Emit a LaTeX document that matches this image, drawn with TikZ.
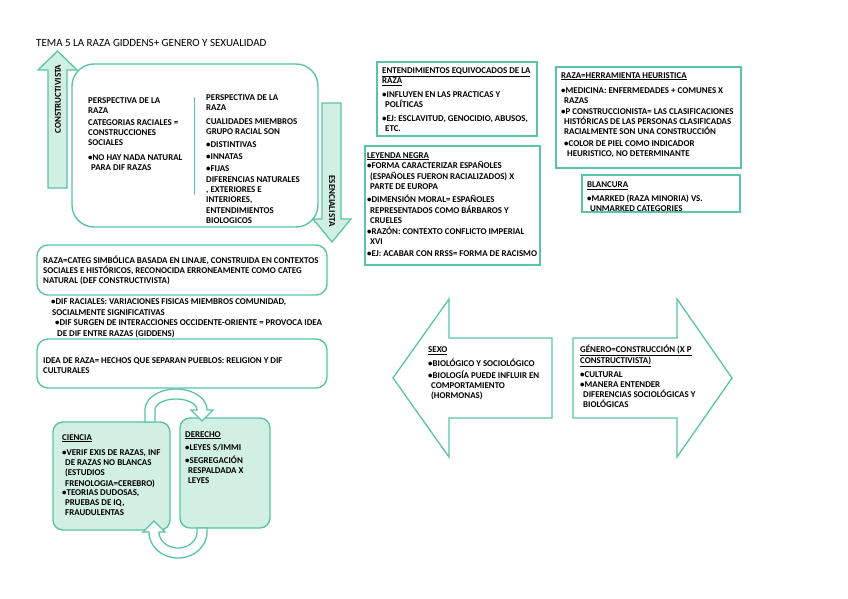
\documentclass[tikz,border=0pt]{standalone}
\usepackage{fontspec}
\setmainfont{Carlito}
\definecolor{tealc}{RGB}{90,196,165}
\definecolor{lightg}{RGB}{210,239,228}
\newcommand{\bodyfnt}{\fontsize{8.9}{10.3}\selectfont\bfseries}
\newcommand{\ind}{\hspace*{3pt}}
\newcommand{\sr}{\rule{0pt}{8pt}}
\begin{document}
\begin{tikzpicture}[x=1pt,y=-1pt,
  txt/.style={anchor=north west, yshift=8pt, inner sep=0pt, align=left, font=\bodyfnt},
  rbox/.style={draw=tealc, line width=1.4pt, rounded corners=11pt},
  sbox/.style={draw=tealc, line width=1.6pt},
  fbox/.style={draw=tealc, fill=lightg, line width=1.4pt, rounded corners=10pt},
  arr/.style={draw=tealc, fill=lightg, line width=1.3pt, line join=miter},
  warr/.style={draw=tealc, fill=white, line width=1.3pt, line join=miter},
  lab/.style={inner sep=0pt, font=\fontsize{9}{10}\selectfont\bfseries}]
\useasboundingbox (0,0) rectangle (848,599);
\fill[white] (0,0) rectangle (848,599);

% title
\node[anchor=base west, inner sep=0pt, font=\fontsize{11}{12}\selectfont] (title) at (36,47) {TEMA 5 LA RAZA GIDDENS+ GENERO Y SEXUALIDAD};

% big rounded box
\draw[rbox, rounded corners=22pt] (72,64) rectangle (318,227);
\draw[tealc, line width=1pt] (194,97) -- (194,195);

% up arrow
\filldraw[arr] (48,188) -- (67,188) -- (67,70) -- (77,70) -- (57.5,51) -- (38,70) -- (48,70) -- cycle;
\node[lab, rotate=90] (constr) at (58,99) {CONSTRUCTIVISTA};
% down arrow
\filldraw[arr] (322,103) -- (341,103) -- (341,219) -- (351,219) -- (332,242) -- (313,219) -- (322,219) -- cycle;
\node[lab, rotate=-90] (esenc) at (332,201) {ESENCIALISTA};

% left column
\node[txt] (l1) at (88,103) {\sr PERSPECTIVA DE LA\\RAZA};
\node[txt] (l2) at (88,125) {\sr CATEGORIAS RACIALES =\\CONSTRUCCIONES\\SOCIALES};
\node[txt] (l3) at (88,160) {\sr •NO HAY NADA NATURAL\\\ind PARA DIF RAZAS};
% right column
\node[txt] (r1) at (206,100) {\sr PERSPECTIVA DE LA\\RAZA};
\node[txt] (r2) at (206,124) {\sr CUALIDADES MIEMBROS\\GRUPO RACIAL SON};
\node[txt] (r3) at (206,147) {\sr •DISTINTIVAS};
\node[txt] (r4) at (206,159) {\sr •INNATAS};
\node[txt] (r5) at (206,171) {\sr •FIJAS};
\node[txt] (r6) at (206,182) {\sr DIFERENCIAS NATURALES\\, EXTERIORES E\\INTERIORES,\\ENTENDIMIENTOS\\BIOLOGICOS};

% raza box
\draw[rbox] (37,245) rectangle (327,295);
\node[txt] (a1) at (43,263) {\sr RAZA=CATEG SIMBÓLICA BASADA EN LINAJE, CONSTRUIDA EN CONTEXTOS\\SOCIALES E HISTÓRICOS, RECONOCIDA ERRONEAMENTE COMO CATEG\\NATURAL (DEF CONSTRUCTIVISTA)};
\node[txt] (b1) at (51,304.5) {\sr •DIF RACIALES: VARIACIONES FISICAS MIEMBROS COMUNIDAD,\\\hspace*{1pt}SOCIALMENTE SIGNIFICATIVAS};
\node[txt] (b2) at (55,325.5) {\sr •DIF SURGEN DE INTERACCIONES OCCIDENTE-ORIENTE = PROVOCA IDEA\\\hspace*{2pt}DE DIF ENTRE RAZAS (GIDDENS)};
% idea box
\draw[rbox] (37,339) rectangle (327,388);
\node[txt] (c1) at (43,363) {\sr IDEA DE RAZA= HECHOS QUE SEPARAN PUEBLOS: RELIGION Y DIF\\CULTURALES};

% ciencia / derecho
\filldraw[fbox] (53,422) rectangle (170,530);
\filldraw[fbox] (180,418) rectangle (270,528);
\filldraw[warr] (145,422) -- (145,410) -- plot[domain=180:360, samples=40] ({176+31*cos(\x)},{410+21*sin(\x)}) -- (213,410) -- (202,421) -- (191,410) -- plot[domain=360:180, samples=40] ({176+21*cos(\x)},{410+11*sin(\x)}) -- (155,422) -- cycle;
\filldraw[warr] (207,528) -- (207,532) -- plot[domain=0:180, samples=40] ({178+29*cos(\x)},{532+26*sin(\x)}) -- (143,532) -- (154,521) -- (165,532) -- plot[domain=180:0, samples=40] ({178+19*cos(\x)},{532+16*sin(\x)}) -- (197,528) -- cycle;
\node[txt] (ci0) at (62,440) {\sr\underline{CIENCIA}};
\node[txt] (ci1) at (62,455) {\sr •VERIF EXIS DE RAZAS, INF\\\ind DE RAZAS NO BLANCAS\\\ind (ESTUDIOS\\\ind FRENOLOGIA=CEREBRO)};
\node[txt] (ci2) at (62,495) {\sr •TEORIAS DUDOSAS,\\\ind PRUEBAS DE IQ,\\\ind FRAUDULENTAS};
\node[txt] (de0) at (185,437) {\sr\underline{DERECHO}};
\node[txt] (de1) at (185,450) {\sr •LEYES S/IMMI};
\node[txt] (de2) at (185,463) {\sr •SEGREGACIÓN\\\ind RESPALDADA X\\\ind LEYES};

% entendimientos
\draw[sbox] (377,62) rectangle (537,136);
\node[txt] (e0) at (382,73.5) {\sr\underline{ENTENDIMIENTOS EQUIVOCADOS DE LA}\\\underline{RAZA}};
\node[txt] (e1) at (382,97.5) {\sr •INFLUYEN EN LAS PRACTICAS Y\\\ind POLÍTICAS};
\node[txt] (e2) at (382,121) {\sr •EJ: ESCLAVITUD, GENOCIDIO, ABUSOS,\\\ind ETC.};

% leyenda negra
\draw[sbox] (365,146) rectangle (540,265);
\node[txt] (n0) at (367,158) {\sr\underline{LEYENDA NEGRA}};
\node[txt] (n1) at (367,168.5) {\sr •FORMA CARACTERIZAR ESPAÑOLES\\\ind (ESPAÑOLES FUERON RACIALIZADOS) X\\\ind PARTE DE EUROPA};
\node[txt] (n2) at (367,202.5) {\sr •DIMENSIÓN MORAL= ESPAÑOLES\\\ind REPRESENTADOS COMO BÁRBAROS Y\\\ind CRUELES};
\node[txt] (n3) at (367,234) {\sr •RAZÓN: CONTEXTO CONFLICTO IMPERIAL\\\ind XVI};
\node[txt] (n4) at (367,256) {\sr •EJ: ACABAR CON RRSS= FORMA DE RACISMO};

% raza herramienta
\draw[sbox] (556,67) rectangle (741,168);
\node[txt] (h0) at (561,78) {\sr\underline{RAZA=HERRAMIENTA HEURISTICA}};
\node[txt] (h1) at (561,93) {\sr •MEDICINA: ENFERMEDADES + COMUNES X\\\ind RAZAS};
\node[txt] (h2) at (561,114) {\sr •P CONSTRUCCIONISTA= LAS CLASIFICACIONES\\\ind HISTÓRICAS DE LAS PERSONAS CLASIFICADAS\\\ind RACIALMENTE SON UNA CONSTRUCCIÓN};
\node[txt] (h3) at (564,146) {\sr •COLOR DE PIEL COMO INDICADOR\\\ind HEURISTICO, NO DETERMINANTE};

% blancura
\draw[sbox] (582,175) rectangle (740,212);
\node[txt] (w0) at (587,187.5) {\sr\underline{BLANCURA}};
\node[txt] (w1) at (587,201) {\sr •MARKED (RAZA MINORIA) VS.\\\ind UNMARKED CATEGORIES};

% sexo arrow
\draw[warr] (393,378) -- (449,299) -- (449,338) -- (552,338) -- (552,418) -- (449,418) -- (449,457) -- cycle;
\node[txt] (s0) at (428,352.5) {\sr\underline{SEXO}};
\node[txt] (s1) at (428,366) {\sr •BIOLÓGICO Y SOCIOLÓGICO};
\node[txt] (s2) at (428,378) {\sr •BIOLOGÍA PUEDE INFLUIR EN\\\ind COMPORTAMIENTO\\\ind (HORMONAS)};

% genero arrow
\draw[warr] (573,338) -- (677,338) -- (677,299) -- (732,378) -- (677,457) -- (677,418) -- (573,418) -- cycle;
\node[txt] (g0) at (580,352.5) {\sr\underline{GÉNERO=CONSTRUCCIÓN (X P}\\\underline{CONSTRUCTIVISTA)}};
\node[txt] (g1) at (580,377) {\sr •CULTURAL};
\node[txt] (g2) at (580,387) {\sr •MANERA ENTENDER\\\ind DIFERENCIAS SOCIOLÓGICAS Y\\\ind BIOLÓGICAS};
\end{tikzpicture}
\end{document}
